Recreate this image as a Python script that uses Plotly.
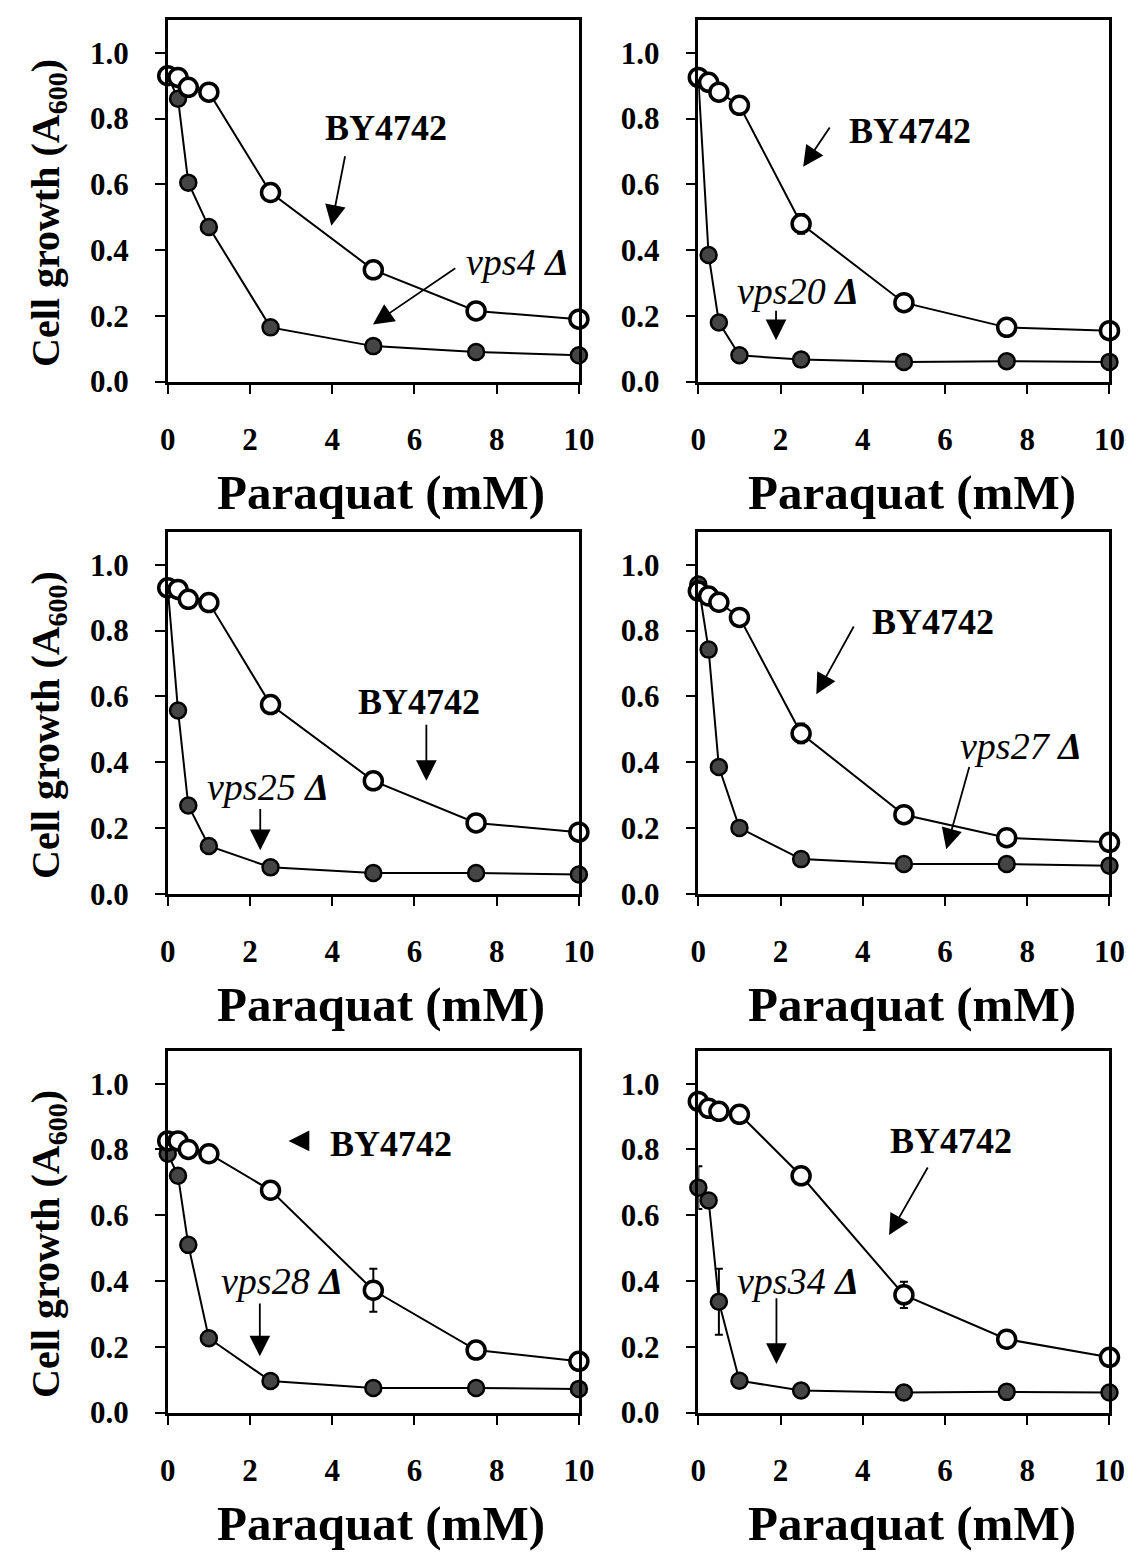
import plotly.graph_objects as go

conc = [0, 0.25, 0.5, 1, 2.5, 5, 7.5, 10]

wt_vps4 = [0.93, 0.925, 0.895, 0.88, 0.575, 0.34, 0.215, 0.19]
mut_vps4 = [0.93, 0.86, 0.605, 0.47, 0.165, 0.108, 0.09, 0.08]
wt_vps20 = [0.925, 0.91, 0.88, 0.84, 0.48, 0.24, 0.165, 0.155]
mut_vps20 = [0.92, 0.385, 0.18, 0.08, 0.067, 0.06, 0.062, 0.06]
wt_vps25 = [0.93, 0.925, 0.895, 0.885, 0.575, 0.343, 0.215, 0.187]
mut_vps25 = [0.93, 0.557, 0.268, 0.145, 0.08, 0.063, 0.063, 0.058]
wt_vps27 = [0.92, 0.905, 0.886, 0.84, 0.487, 0.24, 0.17, 0.156]
mut_vps27 = [0.94, 0.742, 0.385, 0.2, 0.105, 0.09, 0.09, 0.085]
wt_vps28 = [0.826, 0.826, 0.80, 0.787, 0.676, 0.372, 0.19, 0.156]
mut_vps28 = [0.787, 0.72, 0.51, 0.226, 0.096, 0.075, 0.075, 0.072]
wt_vps34 = [0.946, 0.925, 0.916, 0.907, 0.72, 0.358, 0.223, 0.168]
mut_vps34 = [0.684, 0.645, 0.337, 0.097, 0.067, 0.061, 0.063, 0.061]

err_wt_vps4 = [0, 0, 0, 0, 0.01, 0.01, 0.01, 0]
err_mut_vps4 = [0, 0, 0, 0, 0, 0, 0, 0]
err_wt_vps20 = [0, 0, 0, 0, 0.03, 0.01, 0, 0]
err_mut_vps20 = [0, 0, 0, 0, 0, 0, 0, 0]
err_wt_vps25 = [0, 0, 0, 0, 0.01, 0, 0, 0]
err_mut_vps25 = [0, 0, 0, 0, 0, 0, 0, 0]
err_wt_vps27 = [0, 0, 0, 0, 0.03, 0.01, 0, 0]
err_mut_vps27 = [0, 0, 0, 0, 0, 0, 0, 0]
err_wt_vps28 = [0, 0, 0, 0, 0.01, 0.065, 0, 0.02]
err_mut_vps28 = [0, 0, 0, 0, 0, 0, 0, 0]
err_wt_vps34 = [0, 0, 0, 0, 0.01, 0.04, 0, 0]
err_mut_vps34 = [0.065, 0.02, 0.1, 0, 0, 0, 0, 0]

mutant_names = ["vps4", "vps20", "vps25", "vps27", "vps28", "vps34"]
wt_series = [wt_vps4, wt_vps20, wt_vps25, wt_vps27, wt_vps28, wt_vps34]
mut_series = [mut_vps4, mut_vps20, mut_vps25, mut_vps27, mut_vps28, mut_vps34]
wt_errs = [err_wt_vps4, err_wt_vps20, err_wt_vps25, err_wt_vps27, err_wt_vps28, err_wt_vps34]
mut_errs = [err_mut_vps4, err_mut_vps20, err_mut_vps25, err_mut_vps27, err_mut_vps28, err_mut_vps34]

x_ticks = [0, 2, 4, 6, 8, 10]
y_ticks = [0.0, 0.2, 0.4, 0.6, 0.8, 1.0]
x_title = "Paraquat (mM)"
y_title = "Cell growth (A<sub>600</sub>)"
wt_label = "BY4742"

W, H = 1140, 1559
FONT = "Liberation Serif"

col_px = [(155, 575), (697, 1117)]
row_px = [(12, 378), (530, 896), (1055, 1421)]

# label/arrow placements (data coords): text pos, arrow tail, arrow head
wt_ann = [
    dict(t=(5.3, 0.77), tail=(4.32, 0.69), head=(3.98, 0.474)),
    dict(t=(5.16, 0.762), tail=(3.22, 0.777), head=(2.55, 0.653)),
    dict(t=(6.12, 0.584), tail=(6.29, 0.518), head=(6.29, 0.343)),
    dict(t=(5.70, 0.826), tail=(3.80, 0.817), head=(2.87, 0.606)),
    dict(t=(5.42, 0.817), tail=(3.44, 0.826), head=(2.94, 0.826)),
    dict(t=(6.14, 0.825), tail=(5.60, 0.75), head=(4.64, 0.54)),
]
mut_ann = [
    dict(t=(8.5, 0.365), tail=(7.03, 0.348), head=(4.99, 0.174)),
    dict(t=(2.43, 0.277), tail=(1.89, 0.22), head=(1.89, 0.126)),
    dict(t=(2.44, 0.325), tail=(2.25, 0.262), head=(2.25, 0.132)),
    dict(t=(7.86, 0.45), tail=(6.60, 0.39), head=(6.03, 0.135)),
    dict(t=(2.79, 0.40), tail=(2.24, 0.336), head=(2.24, 0.171)),
    dict(t=(2.43, 0.40), tail=(1.90, 0.352), head=(1.90, 0.148)),
]

fig = go.Figure()
layout = dict(
    width=W, height=H, margin=dict(l=0, r=0, t=0, b=0),
    paper_bgcolor="white", plot_bgcolor="white", showlegend=False,
    font=dict(family=FONT, color="black"),
)
annotations = []

for i in range(6):
    r, c = divmod(i, 2)
    n = i + 1
    xa = "x" if n == 1 else f"x{n}"
    ya = "y" if n == 1 else f"y{n}"
    x0, x1 = col_px[c]
    y0, y1 = row_px[r]
    axis_common = dict(
        showline=True, linecolor="black", linewidth=2.5, mirror=True,
        ticks="outside", ticklen=10, tickwidth=2, tickcolor="black",
        showgrid=False, zeroline=False,
        tickfont=dict(family=FONT, size=31, color="black", weight="bold"),
    )
    layout[f"xaxis{n}"] = dict(
        domain=[x0 / W, x1 / W], range=[0, 10], anchor=ya,
        tickvals=x_ticks, ticktext=[str(v) for v in x_ticks],
        ticklabelstandoff=18, **axis_common)
    layout[f"yaxis{n}"] = dict(
        domain=[1 - y1 / H, 1 - y0 / H], range=[0, 1.1], anchor=xa,
        tickvals=y_ticks, ticktext=[f"{v:.1f}" for v in y_ticks],
        ticklabelstandoff=20, **axis_common)

    fig.add_trace(go.Scatter(
        x=conc, y=mut_series[i], xaxis=xa, yaxis=ya, mode="lines+markers",
        line=dict(color="black", width=2), cliponaxis=False,
        marker=dict(size=16, color="#454545", line=dict(color="black", width=2.5)),
        error_y=dict(type="data", array=mut_errs[i], color="black", thickness=2, width=4),
    ))
    fig.add_trace(go.Scatter(
        x=conc, y=wt_series[i], xaxis=xa, yaxis=ya, mode="lines+markers",
        line=dict(color="black", width=2), cliponaxis=False,
        marker=dict(size=18, color="white", line=dict(color="black", width=3.5)),
        error_y=dict(type="data", array=wt_errs[i], color="black", thickness=2, width=4),
    ))

    for spec, text, fs in ((wt_ann[i], f"<b>{wt_label}</b>", 36),
                           (mut_ann[i], f"<i>{mutant_names[i]}</i> <b><i>Δ</i></b>", 38)):
        annotations.append(dict(
            xref=xa, yref=ya, x=spec["t"][0], y=spec["t"][1], text=text,
            showarrow=False, font=dict(family=FONT, size=fs, color="black"),
            xanchor="center", yanchor="middle"))
        annotations.append(dict(
            xref=xa, yref=ya, axref=xa, ayref=ya,
            x=spec["head"][0], y=spec["head"][1],
            ax=spec["tail"][0], ay=spec["tail"][1], text="",
            showarrow=True, arrowhead=2, arrowsize=2.3, arrowwidth=1.8,
            arrowcolor="black"))

    # x axis title
    annotations.append(dict(
        xref="paper", yref="paper", x=((x0 + x1) / 2 + 8) / W,
        y=1 - (y1 + 112) / H, text=f"<b>{x_title}</b>", showarrow=False,
        font=dict(family=FONT, size=49, color="black"),
        xanchor="center", yanchor="middle"))
    if c == 0:
        annotations.append(dict(
            xref="paper", yref="paper", x=32 / W, y=1 - ((y0 + y1) / 2 + 12) / H,
            text=f"<b>{y_title}</b>", showarrow=False, textangle=-90,
            font=dict(family=FONT, size=40, color="black"),
            xanchor="center", yanchor="middle"))

layout["annotations"] = annotations
fig.update_layout(**layout)
fig.write_html("out.html")
